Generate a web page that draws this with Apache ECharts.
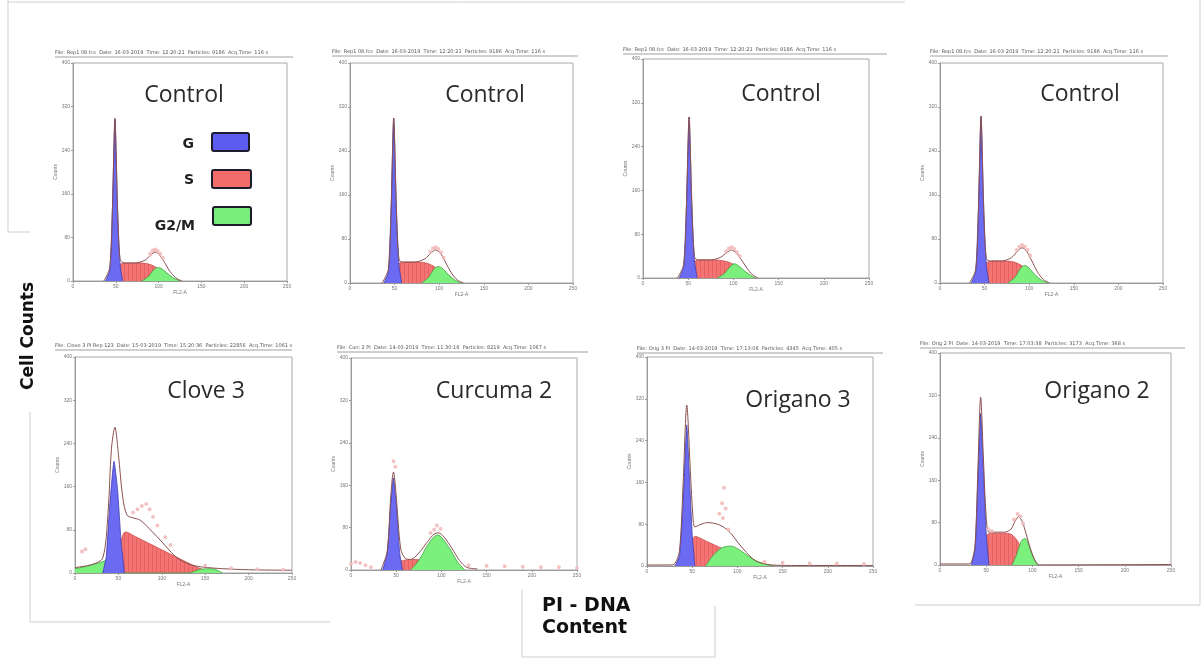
<!DOCTYPE html>
<html><head><meta charset="utf-8">
<script src="https://cdn.jsdelivr.net/npm/echarts@6/dist/echarts.min.js"></script>
<style>html,body{margin:0;padding:0;background:#fff}#c{width:1201px;height:660px}</style>
</head><body><div id="c"></div>
<script>
// ---------- labels ----------
const titles = ['Control','Control','Control','Control','Clove 3','Curcuma 2','Origano 3','Origano 2'];
const headers = [
 'File: Rep1 08.fcs  Date: 16-03-2019  Time: 12:20:21  Particles: 9186  Acq.Time: 116 s',
 'File: Rep1 08.fcs  Date: 16-03-2019  Time: 12:20:21  Particles: 9186  Acq.Time: 116 s',
 'File: Rep1 08.fcs  Date: 16-03-2019  Time: 12:20:21  Particles: 9186  Acq.Time: 116 s',
 'File: Rep1 08.fcs  Date: 16-03-2019  Time: 12:20:21  Particles: 9186  Acq.Time: 116 s',
 'File: Clove 3 PI Rep 123  Date: 15-03-2019  Time: 15:20:36  Particles: 22856  Acq.Time: 1061 s',
 'File: Curc 2 PI  Date: 14-03-2019  Time: 11:30:18  Particles: 8219  Acq.Time: 1067 s',
 'File: Orig 3 PI  Date: 14-03-2019  Time: 17:13:08  Particles: 4345  Acq.Time: 405 s',
 'File: Orig 2 PI  Date: 14-03-2019  Time: 17:03:38  Particles: 3173  Acq.Time: 368 s'
];
const legendLabels = ['G','S','G2/M'];
const xAxisName = 'FL2-A';
const yAxisName = 'Counts';
const xMin = 0, xMax = 250, xStep = 50;
const yMin = 0, yMax = 400, yStep = 80;

// ---------- data: [FL2-A channel, cell count] ----------
const ctrl1G   = [[38,0],[43,20],[46,130],[49,298],[52,130],[55,30],[58,0]];
const ctrl1S   = [[44,0],[48,18],[54,30],[62,33],[75,33],[86,32],[96,26],[104,14],[110,0]];
const ctrl1G2M = [[80,0],[88,8],[94,20],[99,25],[104,22],[111,13],[118,5],[125,0]];
const ctrl1Tot = [[36,0],[43,25],[46,130],[49,298],[52,140],[55,40],[60,33],[72,33],[84,38],[91,48],[96,53],[101,48],[107,34],[113,18],[120,6],[127,0]];
const ctrl1Raw = [[90,50],[93,56],[96,58],[99,55],[102,50],[105,42]];

const ctrl2G   = [[38,0],[43,20],[46,130],[49,300],[52,130],[55,30],[58,0]];
const ctrl2S   = [[42,0],[47,20],[53,34],[62,38],[75,38],[86,36],[96,28],[104,14],[110,0]];
const ctrl2G2M = [[80,0],[88,10],[94,25],[99,30],[104,26],[111,14],[118,5],[125,0]];
const ctrl2Tot = [[36,0],[43,25],[46,130],[49,300],[52,140],[55,42],[60,38],[72,38],[84,44],[91,55],[96,60],[101,55],[107,38],[113,20],[120,6],[127,0]];
const ctrl2Raw = [[90,57],[93,63],[96,65],[99,62],[102,56],[105,46]];

const ctrl3G   = [[40,0],[45,20],[48,130],[51,294],[54,130],[57,30],[60,0]];
const ctrl3S   = [[46,0],[50,18],[56,30],[65,33],[78,33],[90,31],[100,25],[108,14],[115,0]];
const ctrl3G2M = [[82,0],[90,8],[96,20],[101,26],[106,22],[113,12],[119,5],[124,0]];
const ctrl3Tot = [[38,0],[45,25],[48,130],[51,294],[54,140],[57,38],[62,33],[75,33],[86,38],[93,47],[98,51],[103,46],[109,33],[115,18],[121,6],[127,0]];
const ctrl3Raw = [[92,49],[95,54],[98,56],[101,53],[104,47],[107,40]];

const ctrl4G   = [[35,0],[40,20],[43,130],[46,303],[49,130],[52,30],[55,0]];
const ctrl4S   = [[40,0],[45,20],[51,36],[60,40],[72,40],[83,38],[93,30],[101,15],[107,0]];
const ctrl4G2M = [[76,0],[84,10],[90,26],[95,32],[100,27],[107,14],[114,5],[121,0]];
const ctrl4Tot = [[33,0],[40,25],[43,130],[46,303],[49,140],[52,44],[57,40],[69,40],[80,46],[87,58],[92,64],[97,58],[103,40],[109,21],[116,6],[123,0]];
const ctrl4Raw = [[86,60],[89,66],[92,69],[95,66],[98,60],[101,50]];

const clove3G   = [[32,0],[36,30],[40,125],[45,207],[49,155],[53,60],[57,0]];
const clove3S   = [[44,0],[50,40],[55,70],[58,76],[70,67],[85,55],[100,43],[115,31],[130,19],[143,9],[155,3],[165,0]];
const clove3G2M = [[0,8],[15,13],[30,20],[40,26],[44,27],[48,0],[130,0],[145,7],[158,8],[170,0]];
const clove3Tot = [[0,10],[20,16],[32,28],[38,110],[42,230],[46,270],[50,220],[55,140],[60,107],[67,102],[75,98],[88,78],[101,56],[111,38],[121,24],[134,15],[147,11],[170,8],[200,6],[250,5]];
const clove3Raw = [[8,40],[12,44],[67,112],[72,118],[77,124],[82,128],[86,118],[90,104],[95,88],[104,66],[110,52],[150,14],[180,9],[210,7],[240,6]];

const curc2G   = [[35,0],[40,30],[44,125],[47,174],[50,125],[54,30],[57,0]];
const curc2S   = [[38,0],[45,10],[55,17],[68,20],[82,18],[95,13],[107,6],[117,0]];
const curc2G2M = [[66,0],[75,18],[84,45],[92,63],[96,66],[101,60],[110,38],[118,15],[126,0]];
const curc2Tot = [[33,0],[40,35],[44,140],[47,185],[50,140],[55,40],[60,22],[66,20],[75,32],[84,52],[92,68],[97,70],[103,62],[112,40],[120,18],[128,5],[140,2]];
const curc2Raw = [[0,12],[5,15],[10,13],[16,9],[22,5],[47,205],[49,195],[88,70],[92,76],[95,84],[99,78],[130,9],[150,8],[170,7],[190,6],[210,5],[230,5],[250,4]];

const orig3G   = [[31,0],[36,20],[40,125],[44,270],[47,170],[50,60],[53,0]];
const orig3S   = [[45,0],[49,30],[53,57],[65,48],[80,36],[95,23],[108,11],[119,2],[124,0]];
const orig3G2M = [[65,0],[73,20],[83,35],[93,38],[103,30],[113,18],[123,8],[132,3],[140,0]];
const orig3Tot = [[0,2],[25,2],[31,5],[36,30],[40,160],[44,308],[48,180],[51,90],[53,75],[60,80],[67,83],[78,80],[86,73],[94,60],[101,44],[110,26],[119,11],[128,5],[138,2],[160,1],[250,1]];
const orig3Raw = [[80,100],[83,120],[85,150],[87,110],[84,92],[90,70],[130,8],[150,6],[180,5],[210,5],[240,4]];

const orig2G   = [[34,0],[38,30],[41,160],[44,286],[47,180],[50,60],[53,0]];
const orig2S   = [[40,0],[45,30],[50,55],[55,60],[68,60],[77,58],[84,45],[90,25],[95,8],[98,0]];
const orig2G2M = [[78,0],[83,20],[88,45],[92,50],[96,38],[100,18],[104,5],[107,0]];
const orig2Tot = [[0,2],[30,2],[34,5],[38,40],[41,180],[44,317],[47,200],[50,90],[53,62],[60,62],[70,62],[77,68],[81,82],[85,91],[89,82],[93,60],[98,30],[103,8],[107,0],[250,1]];
const orig2Raw = [[52,68],[56,64],[80,86],[84,96],[87,92],[90,78]];

const panelData = [
 {G:ctrl1G, S:ctrl1S, M:ctrl1G2M, T:ctrl1Tot, R:ctrl1Raw},
 {G:ctrl2G, S:ctrl2S, M:ctrl2G2M, T:ctrl2Tot, R:ctrl2Raw},
 {G:ctrl3G, S:ctrl3S, M:ctrl3G2M, T:ctrl3Tot, R:ctrl3Raw},
 {G:ctrl4G, S:ctrl4S, M:ctrl4G2M, T:ctrl4Tot, R:ctrl4Raw},
 {G:clove3G, S:clove3S, M:clove3G2M, T:clove3Tot, R:clove3Raw},
 {G:curc2G, S:curc2S, M:curc2G2M, T:curc2Tot, R:curc2Raw},
 {G:orig3G, S:orig3S, M:orig3G2M, T:orig3Tot, R:orig3Raw},
 {G:orig2G, S:orig2S, M:orig2G2M, T:orig2Tot, R:orig2Raw}
];

// ---------- layout (pixels) ----------
const layout = [
 {l:73,  t:63,  w:214, h:218, hx:55,  hy:54,  he:293,  tx:184,  ty:95},
 {l:350, t:63,  w:223, h:220, hx:332, hy:53,  he:578,  tx:485,  ty:95},
 {l:643, t:59,  w:226, h:219, hx:623, hy:51,  he:887,  tx:781,  ty:94},
 {l:940, t:63,  w:223, h:220, hx:930, hy:53,  he:1168, tx:1080, ty:94},
 {l:75,  t:357, w:217, h:216, hx:55,  hy:347, he:292,  tx:206,  ty:391},
 {l:351, t:358, w:226, h:212, hx:337, hy:349, he:588,  tx:494,  ty:391},
 {l:647, t:357, w:226, h:209, hx:637, hy:350, he:883,  tx:798,  ty:400},
 {l:940, t:353, w:231, h:212, hx:920, hy:345, he:1185, tx:1097, ty:391}
];

// red hatch pattern
const pat = document.createElement('canvas');
pat.width = 4; pat.height = 4;
const pc = pat.getContext('2d');
pc.fillStyle = '#f47474'; pc.fillRect(0,0,4,4);
pc.fillStyle = '#e66262'; pc.fillRect(0,0,1,4);

const grids = [], xAxes = [], yAxes = [], series = [], graphics = [];
layout.forEach((L, i) => {
  grids.push({left:L.l, top:L.t, width:L.w, height:L.h, show:true, borderColor:'#a8a8a8', borderWidth:1, backgroundColor:'transparent'});
  xAxes.push({type:'value', gridIndex:i, min:xMin, max:xMax, interval:xStep,
    axisLine:{show:true, onZero:false, lineStyle:{color:'#9a9a9a'}},
    axisTick:{show:true, length:2, lineStyle:{color:'#9a9a9a'}},
    axisLabel:{fontSize:5, color:'#777', margin:3},
    splitLine:{show:false},
    name:xAxisName, nameLocation:'middle', nameGap:9, nameTextStyle:{fontSize:5, color:'#777'}});
  yAxes.push({type:'value', gridIndex:i, min:yMin, max:yMax, interval:yStep,
    axisLine:{show:true, lineStyle:{color:'#9a9a9a'}},
    axisTick:{show:true, length:2, lineStyle:{color:'#9a9a9a'}},
    axisLabel:{fontSize:5, color:'#777', margin:3},
    splitLine:{show:false},
    name:yAxisName, nameLocation:'middle', nameGap:13, nameRotate:90, nameTextStyle:{fontSize:5, color:'#777'}});
  const D = panelData[i];
  series.push({type:'line', xAxisIndex:i, yAxisIndex:i, data:D.S, smooth:0.3, symbol:'none', z:2,
    lineStyle:{color:'#c85050', width:0.8}, areaStyle:{color:{image:pat, repeat:'repeat'}, opacity:1}});
  series.push({type:'line', xAxisIndex:i, yAxisIndex:i, data:D.M, smooth:0.3, symbol:'none', z:3,
    lineStyle:{color:'#40a040', width:0.8}, areaStyle:{color:'#7cf07c', opacity:1}});
  series.push({type:'line', xAxisIndex:i, yAxisIndex:i, data:D.G, smooth:0.15, symbol:'none', z:4,
    lineStyle:{color:'#3c3cb0', width:0.8}, areaStyle:{color:'#6a6af2', opacity:1}});
  series.push({type:'line', xAxisIndex:i, yAxisIndex:i, data:D.T, smooth:0.3, symbol:'none', z:5,
    lineStyle:{color:'#8c5050', width:1}});
  series.push({type:'scatter', xAxisIndex:i, yAxisIndex:i, data:D.R, symbol:'emptyCircle', symbolSize:2, z:6,
    itemStyle:{color:'#f0b4b4', borderColor:'#efb0b0', borderWidth:0.5}});
  // header
  graphics.push({type:'text', left:L.hx, top:L.hy-4, style:{text:headers[i], fontSize:5, fill:'#555', fontFamily:'DejaVu Sans'}});
  graphics.push({type:'line', shape:{x1:L.hx, y1:L.hy+3, x2:L.he, y2:L.hy+3}, style:{stroke:'#888', lineWidth:0.8}});
  // title
  graphics.push({type:'text', x:L.tx, y:L.ty, z:20, style:{text:titles[i], fontSize:23, fontFamily:'Open Sans', fill:'#2b2b2b', align:'center', verticalAlign:'middle'}});
});

// legend inside first panel
const legColors = ['#5c5cf0','#f36c6c','#7aee7a'];
const legBoxes = [{x:212,y:133,w:37,h:18},{x:212,y:170,w:39,h:18},{x:213,y:207,w:38,h:18}];
const legText = [{x:194,y:144},{x:194,y:180},{x:195,y:226}];
legendLabels.forEach((lab, k) => {
  graphics.push({type:'rect', z:20, shape:{x:legBoxes[k].x, y:legBoxes[k].y, width:legBoxes[k].w, height:legBoxes[k].h, r:2},
    style:{fill:legColors[k], stroke:'#1c1c2c', lineWidth:2}});
  graphics.push({type:'text', z:20, x:legText[k].x, y:legText[k].y, style:{text:lab, fontSize:14, fontWeight:'bold', fontFamily:'DejaVu Sans', fill:'#222', align:'right', verticalAlign:'middle'}});
});

// big axis captions
graphics.push({type:'text', z:20, x:29, y:336, rotation:Math.PI/2, style:{text:'Cell Counts', fontSize:17, fontWeight:'bold', fontFamily:'DejaVu Sans', fill:'#111', align:'center', verticalAlign:'middle'}});
graphics.push({type:'text', z:20, x:542, y:606, style:{text:'PI - DNA', fontSize:19, fontWeight:'bold', fontFamily:'DejaVu Sans', fill:'#111', align:'left', verticalAlign:'middle'}});
graphics.push({type:'text', z:20, x:542, y:628, style:{text:'Content', fontSize:19, fontWeight:'bold', fontFamily:'DejaVu Sans', fill:'#111', align:'left', verticalAlign:'middle'}});

// collage piece borders
const edges = [
 [[8,0],[8,232],[30,232]],
 [[8,2],[905,2]],
 [[30,412],[30,622],[330,622]],
 [[522,590],[522,657],[715,657],[715,606]],
 [[915,605],[1200,605],[1200,0]]
];
edges.forEach(pts => graphics.push({type:'polyline', z:1, shape:{points:pts}, style:{stroke:'#cfcfcf', lineWidth:1, fill:null}}));

const chart = echarts.init(document.getElementById('c'), null, {renderer:'canvas'});
chart.setOption({
  animation:false, backgroundColor:'#fff',
  grid:grids, xAxis:xAxes, yAxis:yAxes, series:series, graphic:graphics
});
</script></body></html>
